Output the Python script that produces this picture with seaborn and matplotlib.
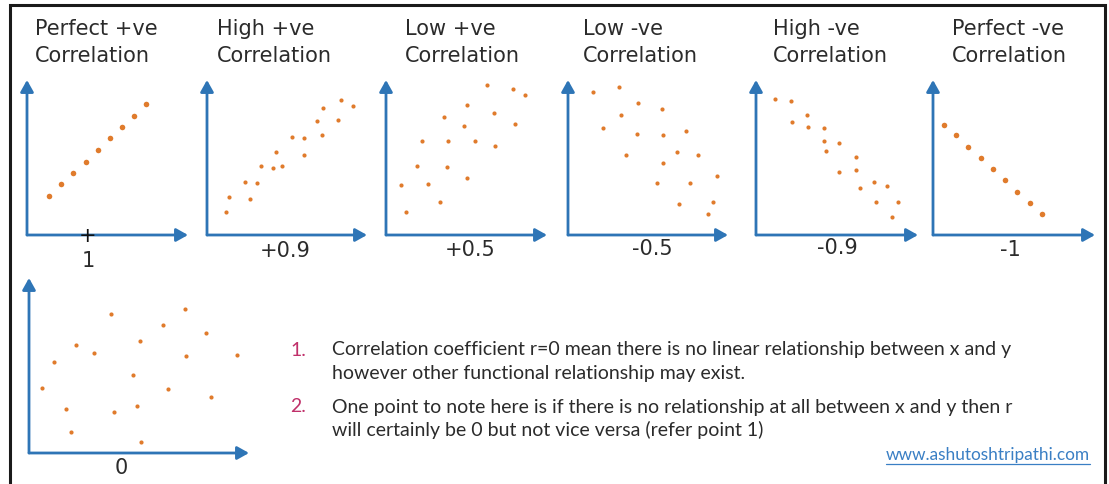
import matplotlib
matplotlib.use("Agg")
import matplotlib.pyplot as plt
import seaborn as sns
from matplotlib.lines import Line2D
from matplotlib.patches import Rectangle
from matplotlib import font_manager

# ---------------- data (panel units) ----------------
titles = [("Perfect +ve", "Correlation"), ("High +ve", "Correlation"),
          ("Low +ve", "Correlation"), ("Low -ve", "Correlation"),
          ("High -ve", "Correlation"), ("Perfect -ve", "Correlation")]
coef_labels = ["1", "+0.9", "+0.5", "-0.5", "-0.9", "-1", "0"]

perfect_pos_x = [22, 34, 46, 59, 71, 83, 95, 107, 119]
perfect_pos_y = [39, 51, 62, 73, 85, 97, 108, 119, 131]

high_pos_x = [18.7, 22, 37.7, 43.3, 49.7, 53.7, 65.7, 69, 75, 85, 96.7, 96.7,
              110, 115, 115.7, 130.7, 133.7, 146.3]
high_pos_y = [23, 38.3, 53.3, 36.3, 52.3, 68.7, 67.3, 82.7, 69, 98, 96.7, 80,
              114.3, 99.7, 127.3, 114.7, 135.3, 129]

low_pos_x = [15, 19.7, 30.7, 36.3, 42.3, 54.3, 58, 61, 62, 77.7, 81.3, 81.3,
             89, 101.3, 108, 108.7, 126.7, 129, 139.3]
low_pos_y = [50, 23, 69, 93.7, 51.3, 33.3, 118, 67.7, 93.7, 108.7, 130, 56.7,
             93.7, 150, 122, 89, 146.3, 110.7, 140]

low_neg_x = [25.3, 35.3, 51.3, 52.7, 58, 68.7, 69.7, 88.7, 94.3, 94.7, 94.7,
             109.3, 110.7, 118, 122, 130.3, 139.7, 145.3, 149.3]
low_neg_y = [143.3, 107.3, 147.7, 119.7, 79.7, 100.7, 131.7, 52, 126, 99.7,
             72.3, 83.3, 31, 103.7, 52.3, 80, 20.7, 33.3, 59.3]

high_neg_x = [19, 35, 35.7, 51.3, 51.7, 67.7, 67.7, 70, 83, 83, 99.7, 99.7,
              104.3, 117.7, 120.3, 131, 135.7, 141.7]
high_neg_y = [136.3, 134.3, 113, 120.3, 107.7, 106.7, 94, 84.3, 91.7, 63, 78,
              65, 47.3, 53.3, 32.7, 49.3, 18.3, 32.7]

perfect_neg_x = [11, 23, 35.3, 47.7, 59.7, 72, 84.3, 97, 109.3]
perfect_neg_y = [110, 99.7, 88, 77, 65.7, 54.7, 43.3, 32, 21]

zero_x = [12.7, 25.3, 36.7, 41.7, 47, 65, 82, 84.7, 103.7, 108.3, 111, 112.3,
          134, 139, 155.7, 157, 177, 182, 207.7]
zero_y = [64.7, 91, 44.3, 21.3, 108, 99.7, 139, 41, 78, 47.3, 112, 10.7,
          128.3, 64.3, 144, 96.7, 120, 55.7, 98.3]

notes = [("1.", "Correlation coefficient r=0 mean there is no linear relationship between x and y",
          "however other functional relationship may exist."),
         ("2.", "One point to note here is if there is no relationship at all between x and y then r",
          "will certainly be 0 but not vice versa (refer point 1)")]
url = "www.ashutoshtripathi.com"

# ---------------- style ----------------
W, H = 1109, 484
BLUE = "#2E75B6"
ORANGE = "#E07B2C"
TXT = "#2b2b2b"

sns.set_style("white")
plt.rcParams["font.family"] = ["DejaVu Sans"]

avail = {f.name for f in font_manager.fontManager.ttflist}
body_font = next((f for f in ["Lato", "Open Sans", "Roboto", "DejaVu Sans"] if f in avail))

fig = plt.figure(figsize=(W / 100, H / 100), dpi=100)
fig.patch.set_facecolor("white")


def fx(px):
    return px / W


def fy(py):
    return 1 - py / H


# panel geometry in pixels: origin x, origin y, x-arrow end, y-arrow top
geom = [(27, 235, 188, 80), (207, 235, 367, 80), (386, 235, 547, 80),
        (568, 235, 728, 80), (756, 235, 918, 80), (933, 235, 1095, 80),
        (29, 453, 249, 278)]
series = [(perfect_pos_x, perfect_pos_y, 16), (high_pos_x, high_pos_y, 9),
          (low_pos_x, low_pos_y, 9), (low_neg_x, low_neg_y, 9),
          (high_neg_x, high_neg_y, 9), (perfect_neg_x, perfect_neg_y, 16),
          (zero_x, zero_y, 9)]
title_x = [35, 217, 405, 583, 773, 952]
label_pos = [(88, 261), (285, 251), (470, 250), (652, 249), (837, 248), (1010, 250), (121, 468)]

for i, ((ox, oy, xe, yt), (xs, ys, sz)) in enumerate(zip(geom, series)):
    xlen, ylen = xe - ox, oy - yt
    ax = fig.add_axes([fx(ox), fy(oy), xlen / W, ylen / H])
    sns.scatterplot(x=xs, y=ys, ax=ax, color=ORANGE, s=sz, linewidth=0)
    ax.set_xlim(0, xlen)
    ax.set_ylim(0, ylen)
    ax.axis("off")
    for end in [(xlen, 0), (0, ylen)]:
        ax.annotate("", xy=end, xytext=(0, 0), annotation_clip=False,
                    arrowprops=dict(arrowstyle="-|>,head_length=0.5,head_width=0.28",
                                    color=BLUE, lw=2.0, shrinkA=0, shrinkB=0,
                                    mutation_scale=14))
    lx, ly = label_pos[i]
    fig.text(fx(lx), fy(ly), coef_labels[i], ha="center", va="center",
             fontsize=15, color=TXT)
    if i == 0:
        fig.text(fx(88), fy(236), "+", ha="center", va="center", fontsize=15, color="#111111")
    if i < 6:
        fig.text(fx(title_x[i]), fy(35), titles[i][0], ha="left", va="baseline",
                 fontsize=15, color=TXT)
        fig.text(fx(title_x[i]), fy(62), titles[i][1], ha="left", va="baseline",
                 fontsize=15, color=TXT)

# notes
line_y = [(350, 373), (407, 430)]
for (num, l1, l2), (y1, y2) in zip(notes, line_y):
    fig.text(fx(290), fy(y1), num, ha="left", va="center", fontsize=14,
             color="#C0306A", family=body_font)
    fig.text(fx(332), fy(y1), l1, ha="left", va="center", fontsize=14,
             color=TXT, family=body_font)
    fig.text(fx(332), fy(y2), l2, ha="left", va="center", fontsize=14,
             color=TXT, family=body_font)

ut = fig.text(fx(1090), fy(455), url, ha="right", va="center", fontsize=12.4,
              color="#3A7FC4", family=body_font)

# border
fig.add_artist(Rectangle((fx(10), -0.05), (1105 - 10) / W, 1.05 - 5 / H,
                         transform=fig.transFigure, fill=False,
                         edgecolor="#1a1a1a", lw=2.2))

fig.canvas.draw()
bb = ut.get_window_extent()
fig.add_artist(Line2D([bb.x0 / W, bb.x1 / W], [(bb.y0 - 1) / H] * 2,
                      transform=fig.transFigure, color="#3A7FC4", lw=0.9))

fig.savefig("out.png", dpi=100, facecolor="white")
